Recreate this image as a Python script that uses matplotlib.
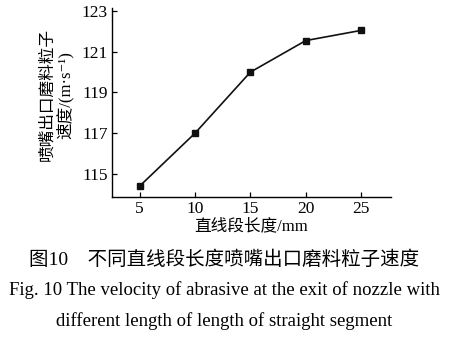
import matplotlib
matplotlib.use('Agg')
import matplotlib.pyplot as plt

# data
lengths = [5, 10, 15, 20, 25]
velocity = [114.4, 117.0, 120.0, 121.55, 122.05]
x_ticks = [5, 10, 15, 20, 25]
y_ticks = [115, 117, 119, 121, 123]

xlabel = '直线段长度/mm'
ylabel = '喷嘴出口磨料粒子\n速度/(m\u00b7s\u207b\u00b9)'
caption_cn = '图10\u3000不同直线段长度喷嘴出口磨料粒子速度'
caption_en1 = 'Fig. 10 The velocity of abrasive at the exit of nozzle with'
caption_en2 = 'different length of length of straight segment'

fonts = ['Liberation Serif', 'Noto Sans CJK SC', 'DejaVu Serif']
plt.rcParams['font.family'] = fonts

fig = plt.figure(figsize=(4.49, 3.41), dpi=100)
ax = fig.add_axes([0.2494, 0.4232, 0.6214, 0.5533])

ax.plot(lengths, velocity, color='#111111', linewidth=1.2,
        marker='s', markersize=4.5, markerfacecolor='#111111')

ax.set_xlim(2.5, 27.7)
ax.set_ylim(113.88, 123.15)
ax.set_xticks(x_ticks)
ax.set_yticks(y_ticks)

for side in ['top', 'right']:
    ax.spines[side].set_visible(False)
for side in ['left', 'bottom']:
    ax.spines[side].set_linewidth(1.0)

ax.tick_params(axis='both', direction='in', length=3.5, width=0.9,
               labelsize=12.5, pad=3)

ax.set_xlabel(xlabel, fontsize=12, labelpad=1)
ax.set_ylabel(ylabel, fontsize=12, linespacing=1.05)
ax.yaxis.set_label_coords(-0.138, 0.54)

fig.text(0.5, 1 - 260 / 341, caption_cn, ha='center', va='center', fontsize=14)
fig.text(0.5, 1 - 290 / 341, caption_en1, ha='center', va='center', fontsize=13.5)
fig.text(0.5, 1 - 321 / 341, caption_en2, ha='center', va='center', fontsize=13.5)

fig.savefig('out.png', dpi=100)
